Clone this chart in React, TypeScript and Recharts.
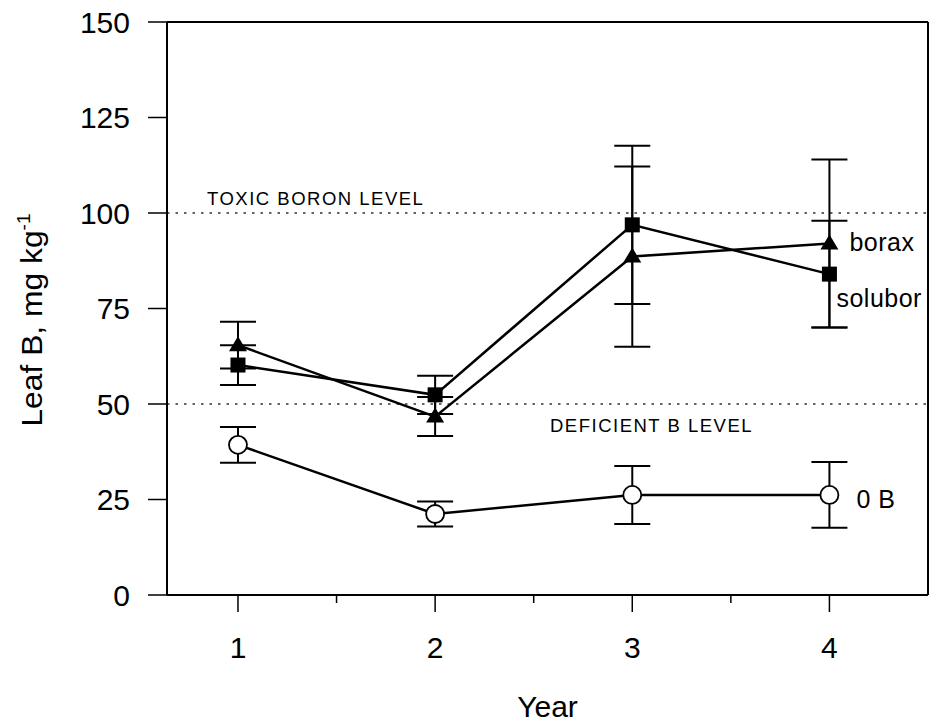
import React from "react";
import {
  ComposedChart,
  Line,
  XAxis,
  YAxis,
  ErrorBar,
  ReferenceLine,
  LabelList,
  Label,
} from "recharts";

const years = [1, 2, 3, 4];
const zeroB = [39.3, 21.2, 26.2, 26.2];
const zeroBErr = [4.7, 3.3, 7.6, 8.6];
const solubor = [60.2, 52.4, 96.9, 84];
const soluborErr = [5.2, 5, 20.7, 14];
const borax = [65.4, 46.7, 88.6, 92];
const boraxErr = [6.1, 5.1, 23.6, 22];

const xTicks = [1, 1.5, 2, 2.5, 3, 3.5, 4];
const yTicks = [0, 25, 50, 75, 100, 125, 150];

const FONT = "'Liberation Sans', Arial, Helvetica, sans-serif";

const rows = years.map((year, i) => ({
  year,
  zeroB: zeroB[i],
  zeroBErr: zeroBErr[i],
  solubor: solubor[i],
  soluborErr: soluborErr[i],
  borax: borax[i],
  boraxErr: boraxErr[i],
}));

// markers
const Circle = (p: any) => (
  <circle key={`c-${p.index}`} cx={p.cx} cy={p.cy} r={9} fill="#fff" stroke="#000" strokeWidth={1.8} />
);
const Square = (p: any) => (
  <rect key={`s-${p.index}`} x={p.cx - 7.5} y={p.cy - 7.5} width={15} height={15} fill="#000" />
);
const Triangle = (p: any) => (
  <polygon
    key={`t-${p.index}`}
    points={`${p.cx},${p.cy - 9} ${p.cx + 9},${p.cy + 6} ${p.cx - 9},${p.cy + 6}`}
    fill="#000"
  />
);

const XTick = (props: any) => {
  const { x, y, payload } = props;
  const major = Number.isInteger(payload.value);
  return (
    <g>
      <line x1={x} x2={x} y1={y} y2={y + (major ? 17 : 8)} stroke="#000" strokeWidth={1.5} />
      {major && (
        <text x={x} y={y + 42} dy="0.71em" textAnchor="middle" fontSize={30} fontFamily={FONT} fill="#000">
          {payload.value}
        </text>
      )}
    </g>
  );
};

const YearLabel = (props: any) => {
  const vb = props.viewBox;
  return (
    <text x={vb.x + vb.width / 2} y={717} textAnchor="middle" fontSize={30} fontFamily={FONT} fill="#000">
      Year
    </text>
  );
};

const LeafLabel = () => (
  <text
    transform="translate(42,320) rotate(-90) scale(1.06,1)"
    textAnchor="middle"
    fontSize={30}
    fontFamily={FONT}
    fill="#000"
  >
    Leaf B, mg kg
    <tspan dy={-12} fontSize={18}>
      -1
    </tspan>
  </text>
);

const LevelLabel = (text: string, dx: number, dy: number) => (props: any) => {
  const vb = props.viewBox;
  return (
    <text
      x={vb.x + dx}
      y={vb.y + dy}
      fontSize={18.5}
      letterSpacing={1.5}
      fontFamily={FONT}
      fill="#000"
    >
      {text}
    </text>
  );
};

const SeriesTag = (text: string, dx: number, dy: number) => (props: any) => {
  if (props.index !== years.length - 1) return null;
  return (
    <text
      x={props.x + dx}
      y={props.y + dy}
      dy="0.35em"
      fontSize={25}
      letterSpacing={0.5}
      fontFamily={FONT}
      fill="#000"
    >
      {text}
    </text>
  );
};

export default function App() {
  return (
    <div style={{ position: "absolute", left: 0, top: 0, background: "#fff" }}>
      <ComposedChart
        width={931}
        height={727}
        data={rows}
        margin={{ top: 22, right: 3, bottom: 72, left: 47 }}
      >
        <XAxis
          type="number"
          dataKey="year"
          domain={[0.64, 4.5]}
          allowDataOverflow
          ticks={xTicks}
          tickSize={0}
          tickMargin={0}
          tickLine={false}
          tick={<XTick />}
          axisLine={{ stroke: "#000", strokeWidth: 2 }}
          height={60}
        >
          <Label content={YearLabel} />
        </XAxis>
        <YAxis
          type="number"
          domain={[0, 150]}
          ticks={yTicks}
          width={120}
          tickSize={19}
          tickMargin={18}
          tickLine={{ stroke: "#000", strokeWidth: 1.5 }}
          axisLine={{ stroke: "#000", strokeWidth: 2 }}
          tick={{ fontSize: 30, fill: "#000", fontFamily: FONT }}
        >
          <Label content={LeafLabel} />
        </YAxis>

        <ReferenceLine y={150} stroke="#000" strokeWidth={2} />
        <ReferenceLine x={4.5} stroke="#000" strokeWidth={2} />
        <ReferenceLine
          y={100}
          stroke="#333"
          strokeWidth={1.5}
          strokeDasharray="2.5 6"
          label={LevelLabel("TOXIC BORON LEVEL", 40, -8)}
        />
        <ReferenceLine
          y={50}
          stroke="#333"
          strokeWidth={1.5}
          strokeDasharray="2.5 6"
          label={LevelLabel("DEFICIENT B LEVEL", 383, 28)}
        />

        <Line
          dataKey="zeroB"
          stroke="#000"
          strokeWidth={2.5}
          dot={Circle}
          activeDot={false}
          isAnimationActive={false}
        >
          <ErrorBar dataKey="zeroBErr" direction="y" width={18} stroke="#000" strokeWidth={2} />
          <LabelList dataKey="zeroB" content={SeriesTag("0 B", 27, 4)} />
        </Line>
        <Line
          dataKey="solubor"
          stroke="#000"
          strokeWidth={2.5}
          dot={Square}
          activeDot={false}
          isAnimationActive={false}
        >
          <ErrorBar dataKey="soluborErr" direction="y" width={18} stroke="#000" strokeWidth={2} />
          <LabelList dataKey="solubor" content={SeriesTag("solubor", 7, 24)} />
        </Line>
        <Line
          dataKey="borax"
          stroke="#000"
          strokeWidth={2.5}
          dot={Triangle}
          activeDot={false}
          isAnimationActive={false}
        >
          <ErrorBar dataKey="boraxErr" direction="y" width={18} stroke="#000" strokeWidth={2} />
          <LabelList dataKey="borax" content={SeriesTag("borax", 20, -1)} />
        </Line>
      </ComposedChart>
    </div>
  );
}
